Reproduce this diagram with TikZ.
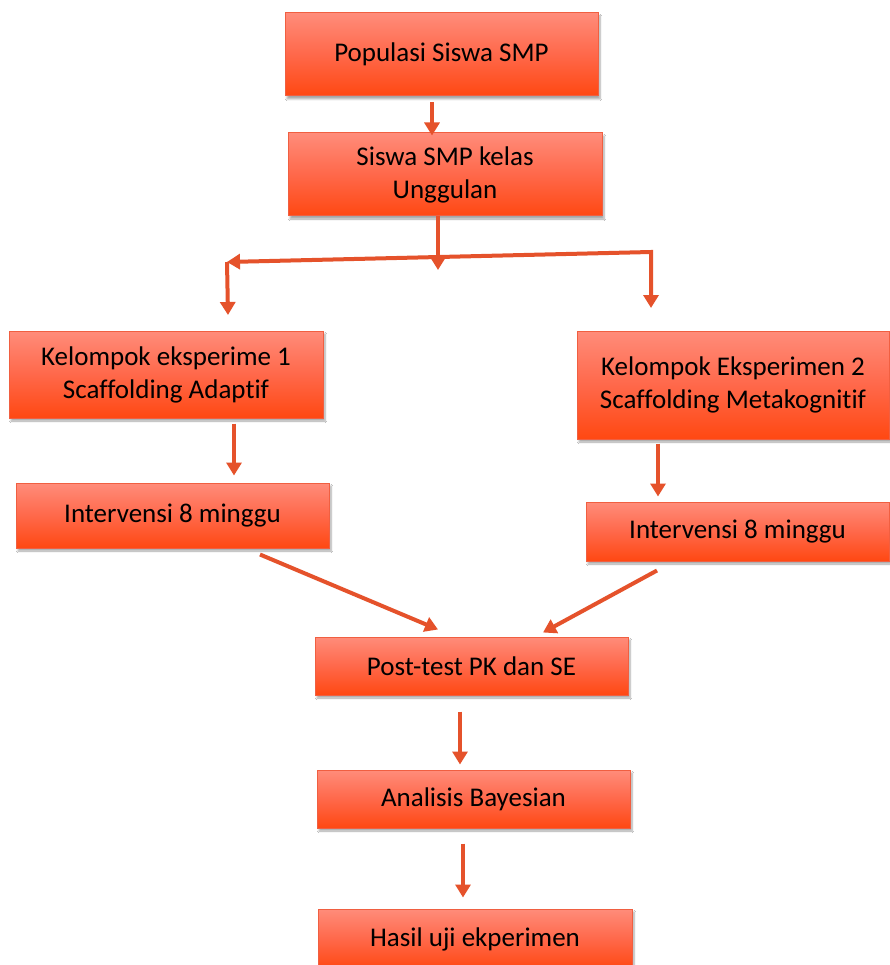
\documentclass[tikz,border=0pt]{standalone}
\usepackage{fontspec}
\setmainfont[Ligatures={NoCommon}]{Carlito}
\usetikzlibrary{arrows.meta,shadows.blur}
\definecolor{boxtop}{RGB}{255,140,122}
\definecolor{boxmid}{RGB}{255,104,74}
\definecolor{boxbot}{RGB}{255,72,18}
\definecolor{boxline}{RGB}{240,95,65}
\definecolor{arrowc}{RGB}{229,82,43}
\begin{document}
\begin{tikzpicture}[x=1pt,y=-1pt,
  box/.style={draw=boxline, line width=1pt, top color=boxtop, bottom color=boxbot, middle color=boxmid,
    align=center, font=\fontsize{27}{33}\selectfont, text=black, inner sep=0pt,
    blur shadow={shadow xshift=2pt,shadow yshift=-3pt,shadow blur steps=6,shadow opacity=35}},
  arr/.style={draw=arrowc, line width=4pt, -{Triangle[width=15pt,length=13pt]}},
  arr2/.style={draw=arrowc, line width=4pt, line join=miter, {Triangle[width=15pt,length=13pt]}-{Triangle[width=15pt,length=13pt]}}]
\useasboundingbox (0,0) rectangle (890,965);
\fill[white] (0,0) rectangle (890,965);

\node[box, minimum width=313pt, minimum height=83pt] (b1) at (441.5,54.5) {Populasi Siswa SMP};
\node[box, minimum width=314pt, minimum height=83pt] (b2) at (445,174.5) {Siswa SMP kelas\\Unggulan};
\node[box, minimum width=314pt, minimum height=87pt] (b3) at (166,374.5) {Kelompok eksperime 1\\Scaffolding Adaptif};
\node[box, minimum width=312pt, minimum height=108pt] (b4) at (733,385) {Kelompok Eksperimen 2\\Scaffolding Metakognitif};
\node[box, minimum width=313pt, minimum height=65pt] (b5) at (172.5,515.5) {Intervensi 8 minggu};
\node[box, minimum width=303pt, minimum height=59pt] (b6) at (737.5,531.5) {Intervensi 8 minggu};
\node[box, minimum width=313pt, minimum height=58pt] (b7) at (471.5,666) {Post-test PK dan SE};
\node[box, minimum width=313pt, minimum height=58pt] (b8) at (473.5,799) {Analisis Bayesian};
\node[box, minimum width=314pt, minimum height=60pt] (b9) at (475,939) {Hasil uji ekperimen};

\coordinate (mid) at (438,270);
\coordinate (jL) at (227,262);
\coordinate (jR) at (651,252);
\coordinate (tipL) at (228,315);
\coordinate (tipR) at (651,308);

\draw[arr] ([xshift=-9.5pt,yshift=-6pt]b1.south) -- ([xshift=-13pt,yshift=-3pt]b2.north);
\draw[arr] ([xshift=-7pt]b2.south) -- (mid);
\draw[arr2] (jL) -- (jR) -- (tipR);
\draw[arr] (jL) -- (tipL);
\draw[arr] ([xshift=68pt,yshift=-5pt]b3.south) -- ([xshift=61.5pt,yshift=7pt]b5.north);
\draw[arr] ([xshift=-75pt,yshift=-4pt]b4.south) -- ([xshift=-79.5pt,yshift=5pt]b6.north);
\draw[arr] ([xshift=87.5pt,yshift=-6pt]b5.south) -- ([xshift=-33.5pt,yshift=7pt]b7.north);
\draw[arr] ([xshift=-80.5pt,yshift=-9pt]b6.south) -- ([xshift=71.5pt,yshift=4pt]b7.north);
\draw[arr] ([xshift=-11.5pt,yshift=-16pt]b7.south) -- ([xshift=-13.5pt,yshift=5pt]b8.north);
\draw[arr] ([xshift=-10.5pt,yshift=-15pt]b8.south) -- ([xshift=-12pt,yshift=11pt]b9.north);
\end{tikzpicture}
\end{document}
